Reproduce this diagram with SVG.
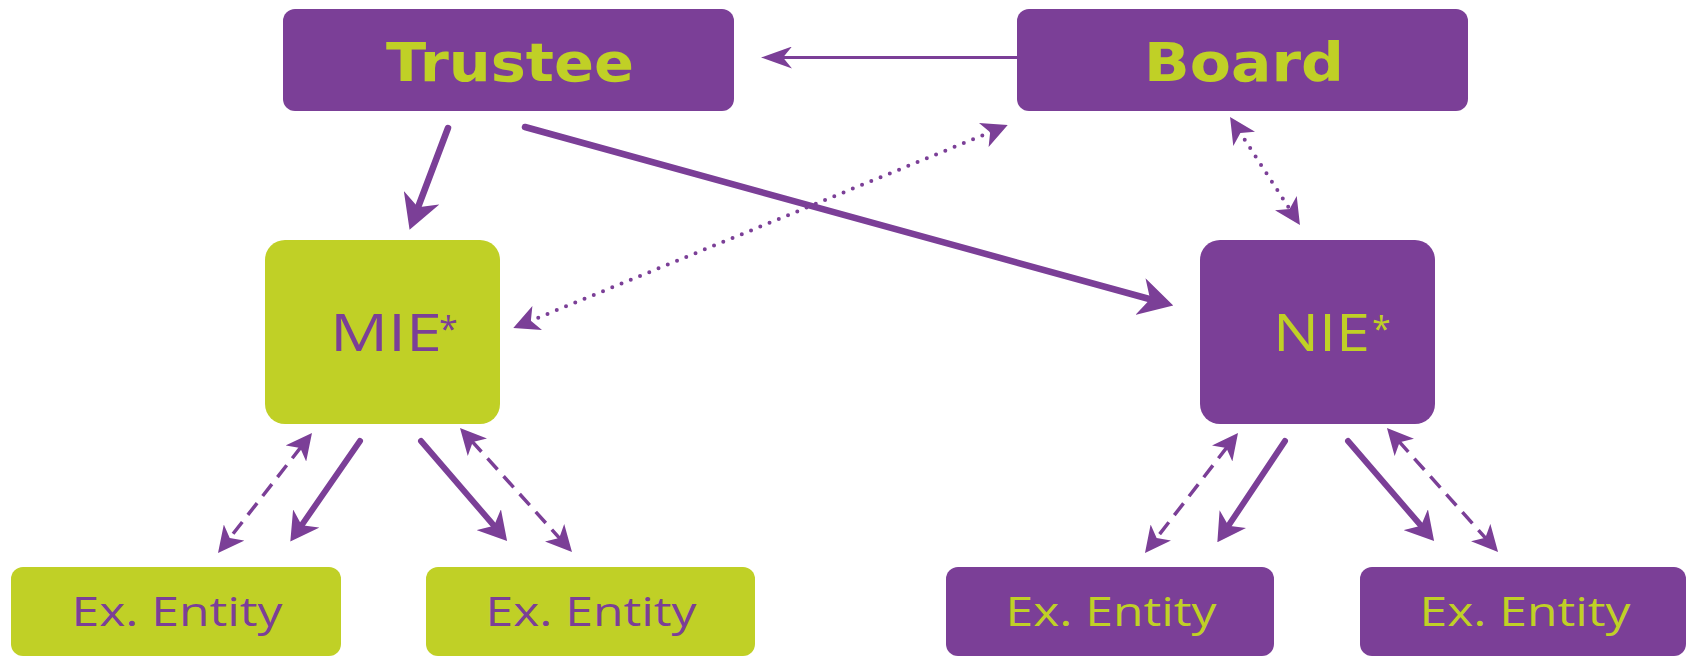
<svg xmlns="http://www.w3.org/2000/svg" width="1686" height="657" viewBox="0 0 1686 657">
<style>
.p{fill:#7B3F97}
.g{fill:#C0D026}
.tb{font-family:"DejaVu Sans",Verdana,sans-serif;font-weight:bold;font-size:53px;fill:#C0D026}
.tm{font-family:"Open Sans","Noto Sans",sans-serif;font-size:51px}
.ta{font-family:"Open Sans","Noto Sans",sans-serif;font-size:34px}
.te{font-family:"Open Sans","Noto Sans",sans-serif;font-size:40px}
.ln{fill:none;stroke:#7B3F97}
.solid{stroke-width:6.5;stroke-linecap:round}
.thin{stroke-width:3}
.mid{stroke-width:6;stroke-linecap:round}
.dash{stroke-width:3.5;stroke-dasharray:15 9}
.dot{stroke-width:4;stroke-dasharray:0 10;stroke-linecap:round}
</style>
<defs>
<marker id="big" viewBox="0 0 34 38" refX="13" refY="19" markerWidth="34" markerHeight="38" markerUnits="userSpaceOnUse" orient="auto-start-reverse"><path d="M0,0 L34,19 L0,38 L10,19 Z" fill="#7B3F97"/></marker>
<marker id="med" viewBox="0 0 31 22" refX="12" refY="11" markerWidth="31" markerHeight="22" markerUnits="userSpaceOnUse" orient="auto-start-reverse"><path d="M0,0 L31,11 L0,22 L9,11 Z" fill="#7B3F97"/></marker>
<marker id="mh" viewBox="0 0 28 32" refX="11" refY="16" markerWidth="28" markerHeight="32" markerUnits="userSpaceOnUse" orient="auto-start-reverse"><path d="M0,0 L28,16 L0,32 L8,16 Z" fill="#7B3F97"/></marker>
<marker id="sm" viewBox="0 0 26 26" refX="9" refY="13" markerWidth="26" markerHeight="26" markerUnits="userSpaceOnUse" orient="auto-start-reverse"><path d="M0,0 L26,13 L0,26 L7,13 Z" fill="#7B3F97"/></marker>
</defs>

<g id="trustee">
<rect class="p" x="283" y="9" width="451" height="102" rx="12"/>
<text class="tb" x="510" y="81" text-anchor="middle" textLength="248" lengthAdjust="spacingAndGlyphs">Trustee</text>
</g>
<g id="board">
<rect class="p" x="1017" y="9" width="451" height="102" rx="12"/>
<text class="tb" x="1244" y="81" text-anchor="middle" textLength="200" lengthAdjust="spacingAndGlyphs">Board</text>
</g>
<g id="mie">
<rect class="g" x="265" y="240" width="235" height="184" rx="20"/>
<text class="tm p" x="330" y="351" textLength="112" lengthAdjust="spacingAndGlyphs">MIE</text>
<text class="ta p" x="439" y="341">*</text>
</g>
<g id="nie">
<rect class="p" x="1200" y="240" width="235" height="184" rx="20"/>
<text class="tm g" x="1273" y="351" textLength="97" lengthAdjust="spacingAndGlyphs">NIE</text>
<text class="ta g" x="1372" y="341">*</text>
</g>
<g id="ex1">
<rect class="g" x="11" y="567" width="330" height="89" rx="12"/>
<text class="te p" x="177" y="626" text-anchor="middle" textLength="211" lengthAdjust="spacingAndGlyphs">Ex. Entity</text>
</g>
<g id="ex2">
<rect class="g" x="426" y="567" width="329" height="89" rx="12"/>
<text class="te p" x="591" y="626" text-anchor="middle" textLength="211" lengthAdjust="spacingAndGlyphs">Ex. Entity</text>
</g>
<g id="ex3">
<rect class="p" x="946" y="567" width="328" height="89" rx="12"/>
<text class="te g" x="1111" y="626" text-anchor="middle" textLength="211" lengthAdjust="spacingAndGlyphs">Ex. Entity</text>
</g>
<g id="ex4">
<rect class="p" x="1360" y="567" width="326" height="89" rx="12"/>
<text class="te g" x="1525" y="626" text-anchor="middle" textLength="211" lengthAdjust="spacingAndGlyphs">Ex. Entity</text>
</g>

<g id="connectors">
<line class="ln thin" x1="1017" y1="57.5" x2="780" y2="57.5" marker-end="url(#med)"/>
<line class="ln solid" x1="448" y1="128" x2="417" y2="210" marker-end="url(#big)"/>
<line class="ln solid" x1="525" y1="127" x2="1153" y2="300" marker-end="url(#big)"/>
<line class="ln dot" x1="529" y1="321.5" x2="992" y2="131.5" marker-start="url(#sm)" marker-end="url(#sm)"/>
<line class="ln dot" x1="1239.3" y1="131.3" x2="1290.7" y2="210.7" marker-start="url(#sm)" marker-end="url(#sm)"/>

<line class="ln dash" x1="301.5" y1="446.4" x2="228.5" y2="539.6" marker-start="url(#sm)" marker-end="url(#sm)"/>
<line class="ln mid" x1="360" y1="441" x2="300" y2="527.6" marker-end="url(#mh)"/>
<line class="ln mid" x1="421" y1="441" x2="496" y2="528" marker-end="url(#mh)"/>
<line class="ln dash" x1="471.4" y1="440.6" x2="560.6" y2="539.4" marker-start="url(#sm)" marker-end="url(#sm)"/>

<line class="ln dash" x1="1227.6" y1="446.4" x2="1155.4" y2="539.6" marker-start="url(#sm)" marker-end="url(#sm)"/>
<line class="ln mid" x1="1285" y1="441" x2="1226.8" y2="528.2" marker-end="url(#mh)"/>
<line class="ln mid" x1="1348" y1="441" x2="1423" y2="528" marker-end="url(#mh)"/>
<line class="ln dash" x1="1398.3" y1="440.7" x2="1486.7" y2="539.3" marker-start="url(#sm)" marker-end="url(#sm)"/>
</g>
</svg>
